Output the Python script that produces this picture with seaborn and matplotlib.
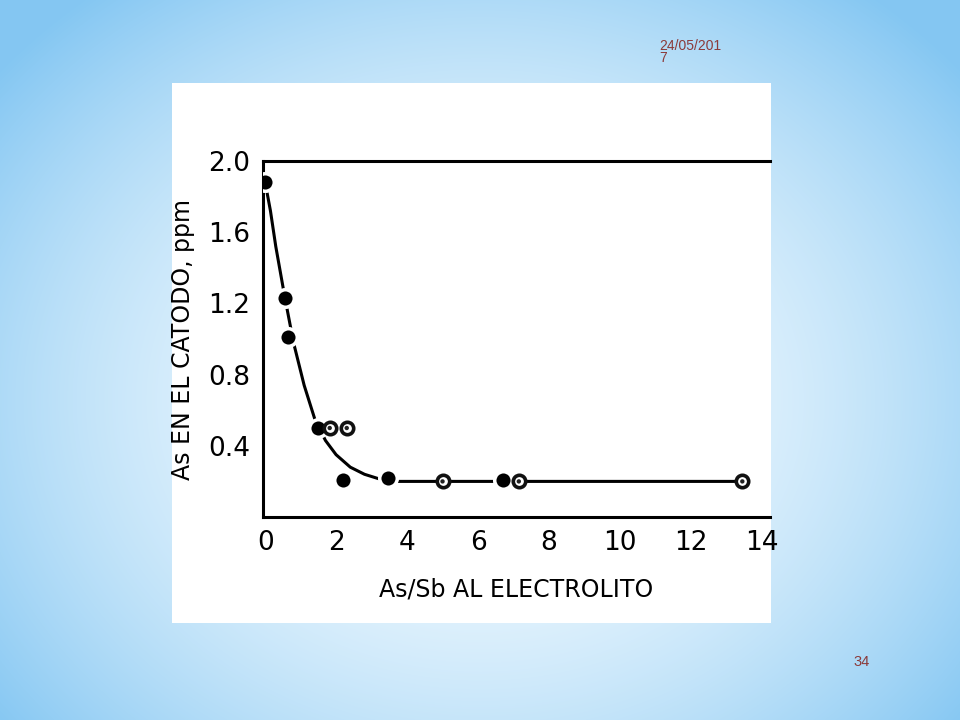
import numpy as np
import seaborn as sns
import matplotlib.pyplot as plt

# Puntos medidos (As/Sb en electrolito vs As en catodo)
filled_x = [0.0, 0.55, 0.65, 1.5, 2.2, 3.45, 6.7]
filled_y = [1.88, 1.23, 1.01, 0.5, 0.21, 0.22, 0.21]
open_x = [1.82, 2.3, 5.0, 7.15, 13.45]
open_y = [0.5, 0.5, 0.2, 0.2, 0.2]

# Curva de tendencia
curve_x = [0.0, 0.15, 0.3, 0.55, 0.8, 1.1, 1.4, 1.7, 2.0, 2.4, 2.8, 3.2, 3.6, 5.0, 8.0, 13.3]
curve_y = [1.88, 1.72, 1.52, 1.24, 0.98, 0.74, 0.55, 0.43, 0.35, 0.28, 0.24, 0.215, 0.2, 0.2, 0.2, 0.2]

x_ticks = [0, 2, 4, 6, 8, 10, 12, 14]
y_ticks = [0.4, 0.8, 1.2, 1.6, 2.0]

sns.set_style("white")
plt.rcParams['font.family'] = ['DejaVu Sans']

fig = plt.figure(figsize=(9.6, 7.2), dpi=100)

# Fondo de la diapositiva (degradado azul claro)
bg = fig.add_axes([0, 0, 1, 1])
yy, xx = np.mgrid[0:720, 0:960]
r = np.sqrt(((xx - 480) / 620.0) ** 2 + ((yy - 400) / 520.0) ** 2)
r = np.clip(r, 0, 1)
c0 = np.array([0.96, 0.985, 1.0])
c1 = np.array([0.52, 0.78, 0.95])
img = c0[None, None, :] * (1 - r[..., None] ** 1.8) + c1[None, None, :] * (r[..., None] ** 1.8)
bg.imshow(img, aspect='auto', extent=[0, 1, 0, 1])
bg.axis('off')

# Panel blanco de la imagen
panel = fig.add_axes([172 / 960, 1 - 623 / 720, 599 / 960, 540 / 720])
panel.set_facecolor('white')
panel.set_xticks([])
panel.set_yticks([])
for s in panel.spines.values():
    s.set_visible(False)

ax = fig.add_axes([263 / 960, 1 - 517 / 720, 507 / 960, 356 / 720])
ax.set_facecolor('none')

sns.lineplot(x=curve_x, y=curve_y, ax=ax, color='black', linewidth=2.2, sort=False)
sns.scatterplot(x=filled_x, y=filled_y, ax=ax, color='black', s=160,
                edgecolor='white', linewidth=2.5, zorder=5)
sns.scatterplot(x=open_x, y=open_y, ax=ax, color='white', s=80,
                edgecolor='#111111', linewidth=2.6, zorder=5)
sns.scatterplot(x=open_x, y=open_y, ax=ax, color='#222222', s=10,
                edgecolor='none', zorder=6)

ax.set_xlim(-0.06, 14.23)
ax.set_ylim(0, 2.0)
ax.set_xticks(x_ticks)
ax.set_yticks(y_ticks)
ax.set_xticklabels([str(v) for v in x_ticks], fontsize=19)
ax.set_yticklabels([f"{v:.1f}" for v in y_ticks], fontsize=19)
ax.tick_params(axis='both', direction='in', length=7, width=2, colors='black', pad=9)
ax.spines['right'].set_visible(False)
for s in ['left', 'bottom', 'top']:
    ax.spines[s].set_linewidth(2.2)
    ax.spines[s].set_color('black')

ax.set_xlabel("As/Sb AL ELECTROLITO", fontsize=17, labelpad=16, color='black')
ax.set_ylabel("As EN EL CATODO, ppm", fontsize=17, labelpad=10, color='black')

fig.text(659 / 960, 1 - 52 / 720, "24/05/201\n7", fontsize=10, color='#8B3A3A',
         va='center', ha='left', linespacing=0.9, family=['Liberation Sans'])
fig.text(862 / 960, 1 - 662 / 720, "34", fontsize=10.5, color='#8B3A3A',
         va='center', ha='center', family=['Liberation Sans'])

plt.savefig("out.png", dpi=100)
